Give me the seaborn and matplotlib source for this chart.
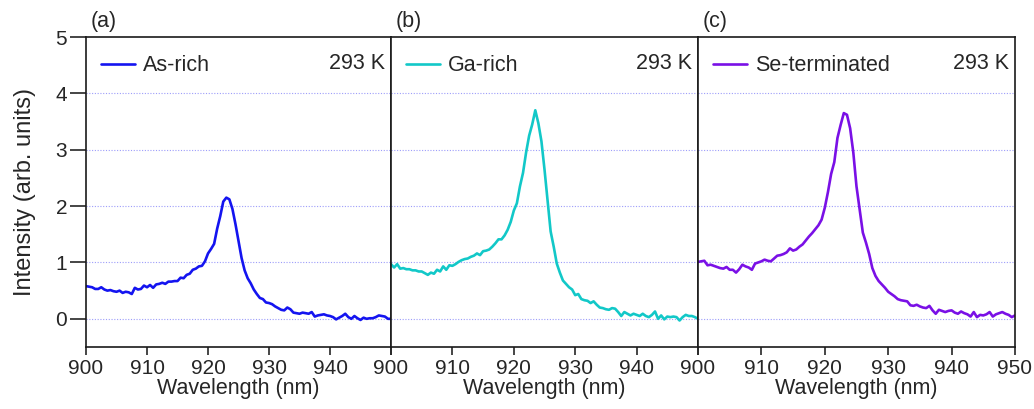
import numpy as np
import pandas as pd
import matplotlib
matplotlib.use("Agg")
import matplotlib.pyplot as plt
import seaborn as sns

# wavelength sampling (nm), 0.5 nm steps from 900 to 950
wavelength = np.arange(900, 950.5, 0.5)

as_rich = [0.58, 0.57, 0.56, 0.53, 0.53, 0.56, 0.52, 0.50, 0.51, 0.49,
           0.48, 0.50, 0.46, 0.48, 0.47, 0.44, 0.55, 0.52, 0.53, 0.59,
           0.56, 0.60, 0.55, 0.61, 0.62, 0.64, 0.62, 0.66, 0.66, 0.67,
           0.67, 0.73, 0.72, 0.78, 0.80, 0.87, 0.89, 0.93, 0.94, 1.02,
           1.16, 1.24, 1.33, 1.60, 1.82, 2.08, 2.15, 2.12, 1.95, 1.68,
           1.38, 1.08, 0.86, 0.72, 0.63, 0.52, 0.44, 0.37, 0.35, 0.29,
           0.28, 0.26, 0.22, 0.19, 0.16, 0.15, 0.20, 0.17, 0.11, 0.10,
           0.09, 0.11, 0.10, 0.09, 0.12, 0.04, 0.06, 0.07, 0.08, 0.06,
           0.05, 0.03, -0.01, 0.02, 0.05, 0.09, 0.03, 0.00, 0.05, 0.01,
           -0.02, 0.02, 0.00, 0.01, 0.01, 0.03, 0.06, 0.05, 0.04, 0.00,
           0.00]

ga_rich = [0.97, 0.91, 0.97, 0.89, 0.90, 0.88, 0.88, 0.86, 0.86, 0.84,
           0.84, 0.81, 0.78, 0.82, 0.80, 0.87, 0.84, 0.93, 0.87, 0.95,
           0.94, 0.97, 1.01, 1.04, 1.06, 1.07, 1.10, 1.12, 1.16, 1.13,
           1.20, 1.21, 1.23, 1.28, 1.34, 1.41, 1.41, 1.48, 1.58, 1.72,
           1.92, 2.05, 2.35, 2.59, 2.95, 3.25, 3.45, 3.70, 3.47, 3.15,
           2.65, 2.10, 1.55, 1.28, 0.98, 0.82, 0.68, 0.62, 0.56, 0.52,
           0.42, 0.44, 0.35, 0.33, 0.32, 0.28, 0.31, 0.25, 0.20, 0.19,
           0.17, 0.16, 0.19, 0.18, 0.12, 0.05, 0.12, 0.09, 0.06, 0.09,
           0.07, 0.05, 0.09, 0.05, 0.03, 0.07, 0.13, 0.00, 0.06, -0.01,
           0.04, 0.03, 0.04, 0.03, -0.03, 0.03, 0.07, 0.05, 0.05, 0.03,
           0.00]

se_term = [1.01, 1.02, 1.03, 0.95, 0.96, 0.94, 0.92, 0.90, 0.89, 0.92,
           0.87, 0.87, 0.82, 0.88, 0.96, 0.93, 0.91, 0.87, 0.98, 1.00,
           1.02, 1.05, 1.03, 1.02, 1.07, 1.12, 1.13, 1.15, 1.18, 1.25,
           1.21, 1.23, 1.28, 1.32, 1.39, 1.46, 1.52, 1.59, 1.66, 1.76,
           1.97, 2.25, 2.57, 2.78, 3.21, 3.44, 3.65, 3.62, 3.38, 2.95,
           2.35, 1.94, 1.53, 1.35, 1.15, 0.90, 0.76, 0.67, 0.61, 0.55,
           0.48, 0.44, 0.40, 0.35, 0.33, 0.32, 0.31, 0.24, 0.23, 0.25,
           0.22, 0.20, 0.19, 0.23, 0.15, 0.09, 0.16, 0.14, 0.12, 0.14,
           0.15, 0.11, 0.09, 0.13, 0.10, 0.08, 0.04, 0.12, 0.03, 0.07,
           0.06, 0.08, 0.12, 0.04, 0.08, 0.10, 0.12, 0.09, 0.07, 0.03,
           0.06]

labels = ["As-rich", "Ga-rich", "Se-terminated"]
panels = ["(a)", "(b)", "(c)"]
colors = ["#1414f0", "#12c8c8", "#7a10e6"]
x_ticks = [900, 910, 920, 930, 940, 950]
y_ticks = [0, 1, 2, 3, 4, 5]

sns.set_style("ticks")
plt.rcParams['font.family'] = ['Liberation Sans', 'DejaVu Sans']
plt.rcParams['font.size'] = 15

fig = plt.figure(figsize=(10.34, 4.09), dpi=100)
gs = fig.add_gridspec(1, 3, width_ratios=[305, 307, 317], wspace=0,
                      left=0.0832, right=0.9816, top=0.9095, bottom=0.1516)

series = [as_rich, ga_rich, se_term]
for i, (vals, lab, col) in enumerate(zip(series, labels, colors)):
    ax = fig.add_subplot(gs[0, i])
    df = pd.DataFrame({"Wavelength": wavelength, "Intensity": vals})
    for yv in y_ticks[:-1]:
        ax.axhline(yv, color="#9d9dfa", lw=0.8, ls=(0, (1, 1.5)), zorder=0)
    sns.lineplot(data=df, x="Wavelength", y="Intensity", ax=ax, color=col,
                 lw=1.9, label=lab)
    ax.set_xlim(900, 950)
    ax.set_ylim(-0.5, 5)
    ax.set_xticks(x_ticks)
    ax.set_xticklabels([str(t) for t in x_ticks[:-1]] + (["950"] if i == 2 else [""]))
    ax.set_xlabel("Wavelength (nm)", fontsize=15.5, labelpad=0)
    ax.tick_params(axis="x", direction="out", length=5.5, width=1.2, labelsize=15, pad=3)
    if i == 0:
        ax.set_yticks(y_ticks)
        ax.set_ylabel("Intensity (arb. units)", fontsize=17, labelpad=14)
        ax.tick_params(axis="y", direction="out", length=11.5, width=1.2, labelsize=15, pad=2)
    else:
        ax.set_yticks(y_ticks)
        ax.set_yticklabels([])
        ax.set_ylabel("")
        ax.tick_params(axis="y", length=0)
    for sp in ax.spines.values():
        sp.set_visible(True)
        sp.set_linewidth(1.2)
        sp.set_color("#1a1a1a")
    ax.legend(loc="upper left", frameon=False, fontsize=15.5,
              handlelength=1.58, handletextpad=0.37,
              borderaxespad=0.3, bbox_to_anchor=(0.0, 0.99))
    ax.text(0.98, 0.915, "293 K", transform=ax.transAxes, ha="right",
            va="center", fontsize=15.5)
    ax.text(0.015, 1.015, panels[i], transform=ax.transAxes, ha="left",
            va="bottom", fontsize=15.5)

fig.savefig("out.png", dpi=100)
